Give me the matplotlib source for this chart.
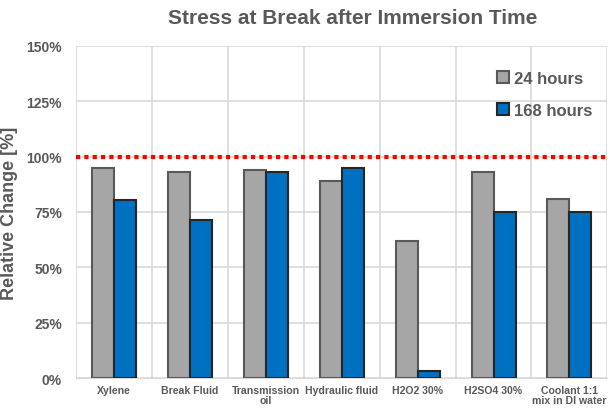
import numpy as np
import matplotlib.pyplot as plt
from matplotlib.ticker import MultipleLocator, FuncFormatter

plt.rcParams['font.family'] = ['Liberation Sans', 'DejaVu Sans']

categories = ['Xylene', 'Break Fluid', 'Transmission\noil', 'Hydraulic fluid',
              'H2O2 30%', 'H2SO4 30%', 'Coolant 1:1\nmix in DI water']
hours_24 = [95, 93, 94, 89, 62, 93, 81]
hours_168 = [80.5, 71.5, 93, 95, 3, 75, 75]

txt = '#595959'
fig = plt.figure(figsize=(6.08, 4.10), dpi=100)
ax = fig.add_axes([0.125, 0.0756, 0.874, 0.81])

x = np.arange(len(categories))
w = 0.29
ax.bar(x - w / 2, hours_24, w, color='#a6a6a6', edgecolor='#595959', linewidth=1.5,
       label='24 hours', zorder=3)
ax.bar(x + w / 2, hours_168, w, color='#0070c0', edgecolor='#262626', linewidth=1.5,
       label='168 hours', zorder=3)

ax.axhline(100, color='#ff0000', linestyle=(0, (1, 1)), linewidth=3, zorder=4)

ax.set_xlim(-0.5, len(categories) - 0.5)
ax.set_ylim(0, 150)
ax.yaxis.set_major_locator(MultipleLocator(25))
ax.yaxis.set_major_formatter(FuncFormatter(lambda v, p: f'{v:.0f}%'))
ax.set_xticks(x)
ax.set_xticklabels(categories, fontsize=7.6, fontweight='bold', color=txt, linespacing=1.05)
ax.set_xticks(np.arange(-0.5, len(categories)), minor=True)
ax.tick_params(axis='x', which='both', length=0, pad=5)
ax.tick_params(axis='y', length=0, labelsize=10, labelcolor=txt, pad=10)
for t in ax.get_yticklabels():
    t.set_fontweight('bold')

ax.grid(axis='y', which='major', color='#d9d9d9', linewidth=1.2, zorder=0)
ax.grid(axis='x', which='minor', color='#d9d9d9', linewidth=1.2, zorder=0)
ax.grid(axis='x', which='major', visible=False)
for s in ax.spines.values():
    s.set_visible(False)
ax.spines['bottom'].set_visible(True)
ax.spines['bottom'].set_color('#d9d9d9')

ax.set_ylabel('Relative Change [%]', fontsize=13, fontweight='bold', color=txt, labelpad=6)
fig.suptitle('Stress at Break after Immersion Time', fontsize=15, fontweight='bold',
             color=txt, x=0.58, y=0.978)

leg = ax.legend(loc='upper right', frameon=False, fontsize=12, labelspacing=1.0,
                handlelength=0.7, handleheight=0.7, handletextpad=0.3,
                bbox_to_anchor=(1.0, 0.97))
for t in leg.get_texts():
    t.set_color(txt)
    t.set_fontweight('bold')

fig.savefig('out.png', dpi=100)
